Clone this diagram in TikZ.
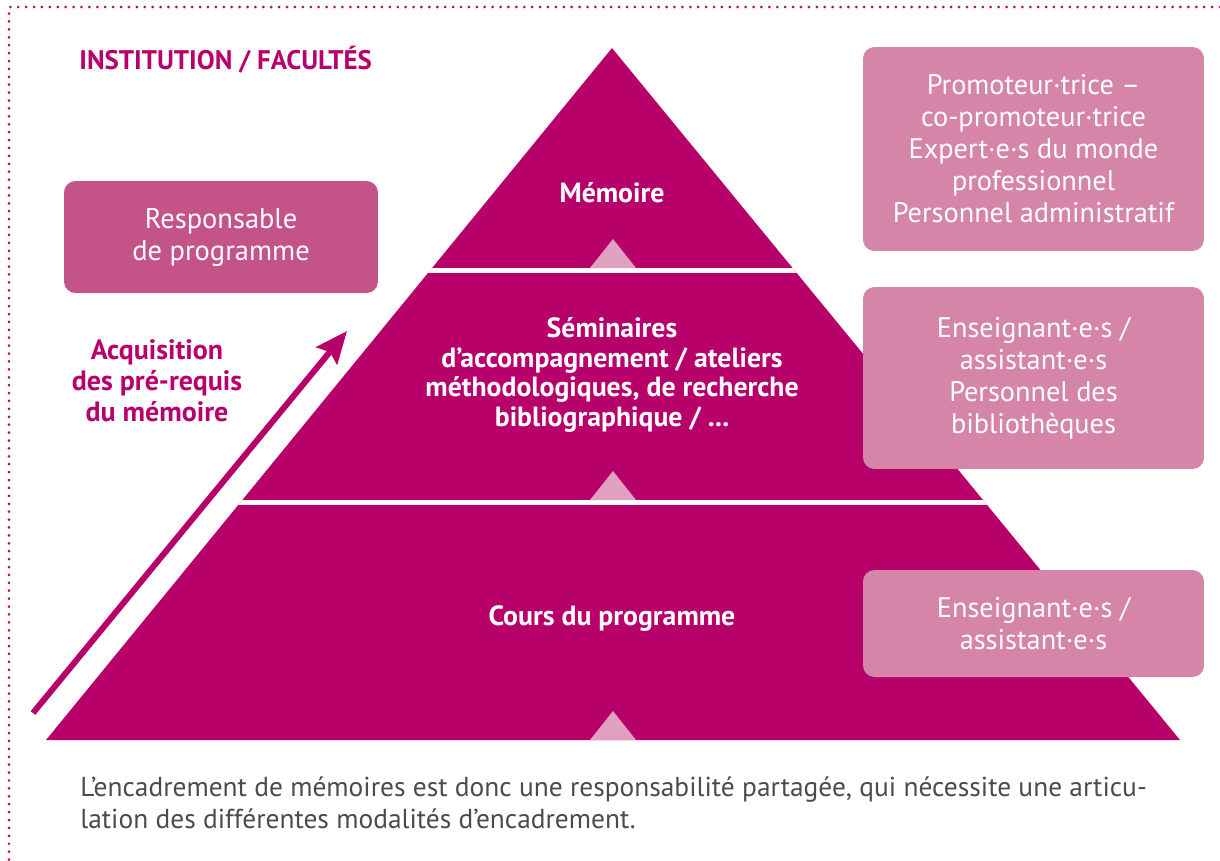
\documentclass[tikz,border=0pt]{standalone}
\usepackage{fontspec}
\setmainfont{PT Sans}
\usetikzlibrary{arrows.meta,positioning}

\definecolor{pyramide}{RGB}{184,0,107}
\definecolor{boitefonce}{RGB}{196,83,138}
\definecolor{boiteclair}{RGB}{212,133,168}
\definecolor{pointe}{RGB}{224,160,192}
\definecolor{gristexte}{RGB}{75,75,75}

\tikzset{
  acteur/.style={fill=boiteclair, rounded corners=6.5pt, text=white, align=center,
    minimum width=6.82cm, inner sep=0pt, font=\fontsize{16.1}{18.2}\selectfont},
  niveau/.style={text=white, align=center, inner sep=0pt,
    font=\bfseries\fontsize{15.8}{17}\selectfont},
  repere/.style={fill=pointe},
}

\begin{document}
\begin{tikzpicture}[x=0.02cm, y=-0.02cm]
    \useasboundingbox (0,0) rectangle (1220,860);

    % Cadre pointille
    \draw[pyramide, line width=1.7pt, line cap=round, dash pattern=on 0pt off 4.5pt]
        (1220,7) -- (9,7) -- (9,860);

    % Pyramide
    \fill[pyramide] (612,48) -- (1180,740) -- (46,740) -- cycle;
    \begin{scope}
        \clip (612,48) -- (1180,740) -- (46,740) -- cycle;
        \draw[white, line width=0.1cm] (0,270.5) -- (1220,270.5);
        \draw[white, line width=0.1cm] (0,502) -- (1220,502);
    \end{scope}

    % Petits triangles
    \foreach \y in {268,500,740}
        \fill[repere] (590,\y) -- (613,\y-29) -- (636,\y) -- cycle;

    % Niveaux
    \node[niveau] (memoire) at (612,193) {Mémoire};
    \node[niveau] (seminaires) at (612,375) {Séminaires\\d’accompagnement / ateliers\\méthodologiques, de recherche\\bibliographique / ...};
    \node[niveau] (cours) at (612,619) {Cours du programme};

    % Titre
    \node[anchor=west, text=pyramide, inner sep=0pt, font=\bfseries\fontsize{15.3}{18}\selectfont]
        (titre) at (79,60) {INSTITUTION / FACULTÉS};

    % Acteurs
    \node[acteur, fill=boitefonce, minimum width=6.28cm, minimum height=2.24cm,
        font=\fontsize{16.2}{18.2}\selectfont]
        (responsable) at (221,237) {Responsable\\de programme};
    \node[acteur, minimum height=4.08cm] (promoteur) at (1033.5,149)
        {Promoteur·trice –\\co-promoteur·trice\\Expert·e·s du monde\\professionnel\\Personnel administratif};
    \node[acteur, minimum height=3.64cm] (enseignants) at (1033.5,378)
        {Enseignant·e·s /\\assistant·e·s\\Personnel des\\bibliothèques};
    \node[acteur, minimum height=2.14cm] (assistants) at (1033.5,623.5)
        {Enseignant·e·s /\\assistant·e·s};

    % Fleche d'acquisition
    \node[text=pyramide, align=center, inner sep=0pt, font=\bfseries\fontsize{15.9}{17.6}\selectfont]
        (acquisition) at (157,381) {Acquisition\\des pré-requis\\du mémoire};
    \coordinate (depart) at (33,713);
    \coordinate (arrivee) at (347,331);
    \draw[pyramide, line width=0.12cm, -{Stealth[length=0.64cm, width=0.54cm, inset=0.1cm]}]
        (depart) -- (arrivee);

    % Texte du bas
    \node[anchor=north west, text=gristexte, align=left, inner sep=0pt,
        font=\fontsize{15.6}{18.7}\selectfont] (legende) at (80,776)
        {L’encadrement de mémoires est donc une responsabilité partagée, qui nécessite une articu-\\lation des différentes modalités d’encadrement.};
\end{tikzpicture}
\end{document}
